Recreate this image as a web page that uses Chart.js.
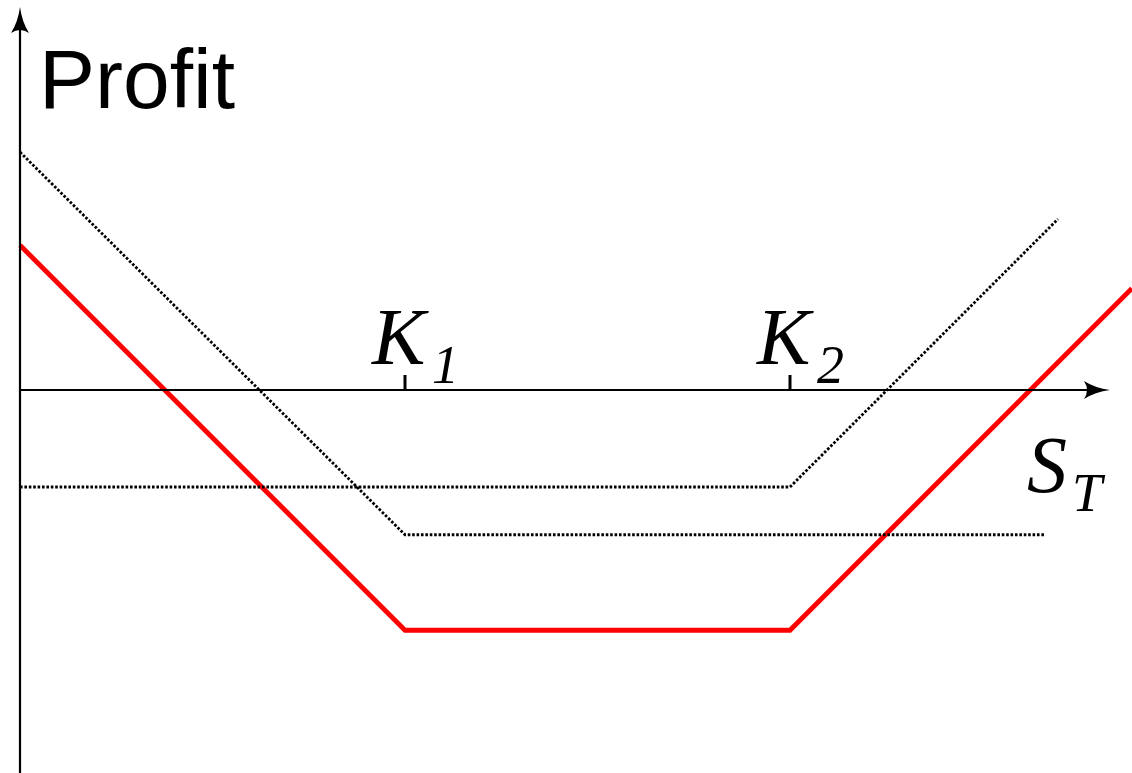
<!DOCTYPE html>
<html>
<head>
<meta charset="utf-8">
<script src="https://cdn.jsdelivr.net/npm/chart.js@4/dist/chart.umd.min.js"></script>
<style>
  html, body { margin: 0; padding: 0; background: #fff; }
  #wrap { width: 1132px; height: 773px; }
</style>
</head>
<body>
<div id="wrap"><canvas id="c" width="1132" height="773"></canvas></div>
<script>
// Strike prices (S_T units)
const strikes = [50, 100];
const strikeLabels = ['K', 'K'];
const strikeSubs = ['1', '2'];

// Strangle total profit (red)
const strangleX = [0, 50, 100, 144.4];
const strangleY = [18.8, -31.2, -31.2, 13.2];

// Long put profit (dotted)
const putX = [0, 50, 133.1];
const putY = [30.9, -18.8, -18.8];

// Long call profit (dotted)
const callX = [0, 100, 134.8];
const callY = [-12.6, -12.6, 22.2];

const axisLabelY = 'Profit';
const axisLabelX = ['S', 'T'];

const SERIF = '"Liberation Serif", "Times New Roman", Times';

function pts(xs, ys) { return xs.map((x, i) => ({ x: x, y: ys[i] })); }

const axesPlugin = {
  id: 'axesPlugin',
  afterDatasetsDraw(chart) {
    const ctx = chart.ctx;
    const xs = chart.scales.x, ys = chart.scales.y;
    const x0 = xs.getPixelForValue(0);
    const y0 = ys.getPixelForValue(0);
    ctx.save();
    ctx.strokeStyle = '#000';
    ctx.fillStyle = '#000';
    ctx.lineWidth = 2.2;
    // y axis
    ctx.beginPath();
    ctx.moveTo(x0, chart.height);
    ctx.lineTo(x0, 20);
    ctx.stroke();
    // y arrow head
    ctx.beginPath();
    ctx.moveTo(x0, 7);
    ctx.quadraticCurveTo(x0 + 2, 22, x0 + 9, 33);
    ctx.quadraticCurveTo(x0, 27, x0 - 9, 33);
    ctx.quadraticCurveTo(x0 - 2, 22, x0, 7);
    ctx.fill();
    // x axis
    const xEnd = 1110;
    ctx.beginPath();
    ctx.moveTo(x0, y0);
    ctx.lineTo(xEnd - 12, y0);
    ctx.stroke();
    ctx.beginPath();
    ctx.moveTo(xEnd, y0);
    ctx.quadraticCurveTo(xEnd - 15, y0 + 2, xEnd - 26, y0 + 9);
    ctx.quadraticCurveTo(xEnd - 20, y0, xEnd - 26, y0 - 9);
    ctx.quadraticCurveTo(xEnd - 15, y0 - 2, xEnd, y0);
    ctx.fill();
    // strike ticks and labels
    ctx.lineWidth = 3;
    strikes.forEach((k, i) => {
      const px = xs.getPixelForValue(k);
      ctx.beginPath();
      ctx.moveTo(px, y0);
      ctx.lineTo(px, y0 - 15);
      ctx.stroke();
      ctx.textAlign = 'left';
      ctx.textBaseline = 'alphabetic';
      ctx.font = 'italic 80px ' + SERIF + ', serif';
      ctx.fillText(strikeLabels[i], px - 33, 364);
      ctx.font = 'italic 54px ' + SERIF + ', serif';
      ctx.fillText(strikeSubs[i], px + 27, 383);
    });
    // axis labels
    ctx.font = '84px "Liberation Sans", Arial, sans-serif';
    ctx.fillText(axisLabelY, 39, 108);
    ctx.font = 'italic 80px ' + SERIF + ', serif';
    ctx.fillText(axisLabelX[0], 1027, 492);
    ctx.font = 'italic 54px ' + SERIF + ', serif';
    ctx.fillText(axisLabelX[1], 1072, 511);
    ctx.restore();
  }
};

new Chart(document.getElementById('c'), {
  type: 'scatter',
  data: {
    datasets: [
      { data: pts(putX, putY), showLine: true, tension: 0,
        borderColor: '#000', borderWidth: 2.8, borderDash: [2.6, 1.8],
        pointRadius: 0, fill: false },
      { data: pts(callX, callY), showLine: true, tension: 0,
        borderColor: '#000', borderWidth: 2.8, borderDash: [2.6, 1.8],
        pointRadius: 0, fill: false },
      { data: pts(strangleX, strangleY), showLine: true, tension: 0, borderColor: '#ff0000',
        borderWidth: 4.8, pointRadius: 0, fill: false, borderJoinStyle: 'miter' }
    ]
  },
  options: {
    responsive: false,
    animation: false,
    layout: { padding: 0 },
    elements: { line: { tension: 0 } },
    plugins: { legend: { display: false }, tooltip: { enabled: false } },
    scales: {
      x: { type: 'linear', display: false, min: -2.597, max: 144.416 },
      y: { type: 'linear', display: false, min: -49.74, max: 50.65 }
    }
  },
  plugins: [axesPlugin]
});
</script>
</body>
</html>
